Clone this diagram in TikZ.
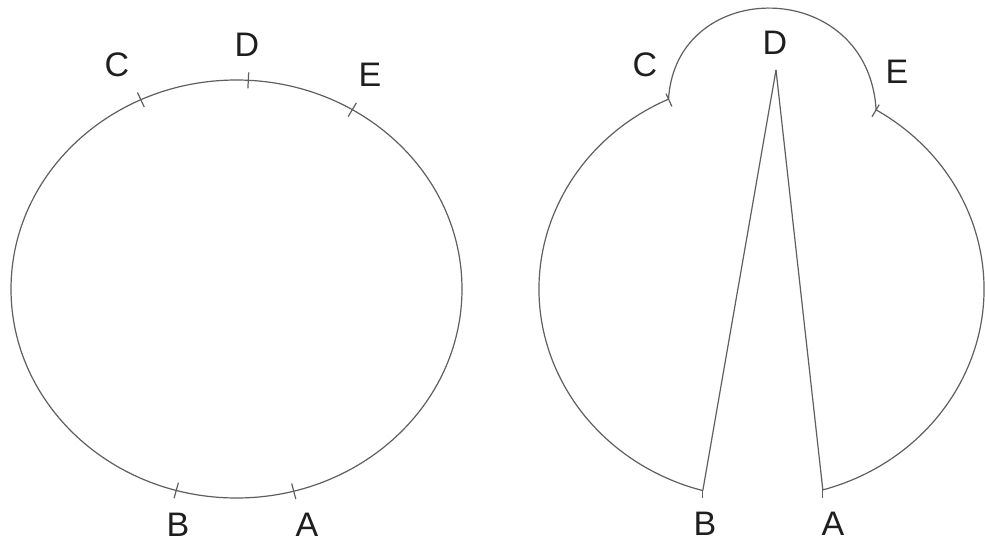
\documentclass[tikz,border=0pt]{standalone}
\usepackage{fontspec}
\setmainfont{Liberation Sans}
\usetikzlibrary{calc}
\definecolor{linegray}{RGB}{95,95,95}
\definecolor{txt}{RGB}{30,30,30}
\newcommand{\tickmark}[4]{% center, angle, rx, ry (pt numbers)
  \draw[curve] ($(#1)+(#2:#3pt-8pt and #4pt-8pt)$) -- ($(#1)+(#2:#3pt+8pt and #4pt+8pt)$);}
\begin{document}
\begin{tikzpicture}[x=1pt,y=-1pt,
  curve/.style={draw=linegray,line width=1.2pt},
  lbl/.style={text=txt,font=\fontsize{34}{40}\selectfont,inner sep=0pt}]
\fill[white] (0,0) rectangle (985,544);
\useasboundingbox (0,0) rectangle (985,544);
% ---------- left figure ----------
\coordinate (cL) at (236.5,289);
\draw[curve] (cL) ellipse [x radius=225.5pt, y radius=209pt];
\coordinate (LC) at ($(cL)+(115.1:225.5pt and 209pt)$);
\coordinate (LD) at ($(cL)+(87:225.5pt and 209pt)$);
\coordinate (LE) at ($(cL)+(59.1:225.5pt and 209pt)$);
\coordinate (LB) at ($(cL)+(254.5:225.5pt and 209pt)$);
\coordinate (LA) at ($(cL)+(284.7:225.5pt and 209pt)$);
\tickmark{cL}{115.1}{225.5}{209}
\tickmark{cL}{87}{225.5}{209}
\tickmark{cL}{59.1}{225.5}{209}
\tickmark{cL}{254.5}{225.5}{209}
\tickmark{cL}{284.7}{225.5}{209}
\node[lbl] (lC) at (117,65) {C};
\node[lbl] (lD) at (247,45) {D};
\node[lbl] (lE) at (370,75) {E};
\node[lbl] (lB) at (178,525) {B};
\node[lbl] (lA) at (307,525) {A};
% ---------- right figure ----------
\coordinate (cR) at (761.5,289);
\coordinate (RC) at ($(cR)+(114.7:222.5pt and 209pt)$);
\coordinate (RE) at ($(cR)+(59:222.5pt and 209pt)$);
\coordinate (RB) at ($(cR)+(254.7:222.5pt and 209pt)$);
\coordinate (RA) at ($(cR)+(286:222.5pt and 209pt)$);
\coordinate (RD) at (776,70);
\draw[curve] (RA) arc[start angle=-74, end angle=59, x radius=222.5pt, y radius=209pt];
\draw[curve] (RC) arc[start angle=114.7, end angle=254.7, x radius=222.5pt, y radius=209pt];
\draw[curve] (RC) .. controls (676,-24) and (868,-24) .. (RE);
\draw[curve] (RD) -- (RB);
\draw[curve] (RD) -- (RA);
\draw[curve] ($(cR)+(114.7:214.5pt and 201pt)$) -- ($(cR)+(114.7:228.5pt and 215pt)$);
\draw[curve] ($(cR)+(59:214.5pt and 201pt)$) -- ($(cR)+(59:228.5pt and 215pt)$);
\draw[curve] (RB) -- ($(cR)+(254.7:222.5pt and 217pt)$);
\draw[curve] (RA) -- ($(cR)+(286:222.5pt and 217pt)$);
\node[lbl] (rC) at (645,65) {C};
\node[lbl] (rD) at (775,43) {D};
\node[lbl] (rE) at (897,72) {E};
\node[lbl] (rB) at (705,524) {B};
\node[lbl] (rA) at (833,524) {A};
\end{tikzpicture}
\end{document}
